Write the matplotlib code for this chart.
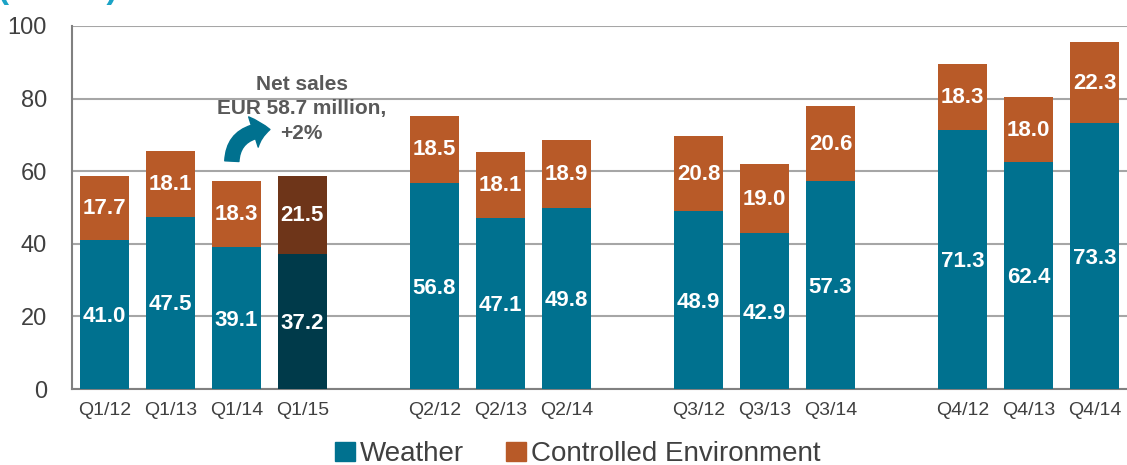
import matplotlib
matplotlib.use("Agg")
import matplotlib.pyplot as plt
from matplotlib.patches import FancyArrowPatch, Patch

plt.rcParams['font.family'] = ['Liberation Sans', 'DejaVu Sans']

categories = ["Q1/12", "Q1/13", "Q1/14", "Q1/15",
              "Q2/12", "Q2/13", "Q2/14",
              "Q3/12", "Q3/13", "Q3/14",
              "Q4/12", "Q4/13", "Q4/14"]
positions = [0, 1, 2, 3, 5, 6, 7, 9, 10, 11, 13, 14, 15]
weather = [41.0, 47.5, 39.1, 37.2, 56.8, 47.1, 49.8, 48.9, 42.9, 57.3, 71.3, 62.4, 73.3]
controlled = [17.7, 18.1, 18.3, 21.5, 18.5, 18.1, 18.9, 20.8, 19.0, 20.6, 18.3, 18.0, 22.3]
highlight = "Q1/15"
yticks = [0, 20, 40, 60, 80, 100]

TEAL = "#00718F"
ORANGE = "#B85A28"
TEAL_D = "#003A4A"
ORANGE_D = "#6E3519"
GRAY = "#404040"

fig = plt.figure(figsize=(11.27, 4.65), dpi=100)
ax = fig.add_axes([72 / 1127, 76 / 465, 1 - 72 / 1127, 363 / 465])

wcol = [TEAL_D if c == highlight else TEAL for c in categories]
ccol = [ORANGE_D if c == highlight else ORANGE for c in categories]
width = 0.74
ax.bar(positions, weather, width=width, color=wcol, zorder=3)
ax.bar(positions, controlled, width=width, bottom=weather, color=ccol, zorder=3)

for x, w, c in zip(positions, weather, controlled):
    ax.text(x, w / 2 - 0.6, f"{w:.1f}", ha="center", va="center", color="white",
            fontsize=16, fontweight="bold", zorder=4)
    ax.text(x, w + c / 2 - 0.2, f"{c:.1f}", ha="center", va="center", color="white",
            fontsize=16, fontweight="bold", zorder=4)

ax.set_xlim(-0.49, 15.49)
ax.set_ylim(0, 100)
ax.set_yticks(yticks)
ax.set_xticks(positions)
ax.set_xticklabels(categories)
ax.tick_params(axis="x", length=0, labelsize=14, labelcolor=GRAY, pad=9)
ax.tick_params(axis="y", length=0, labelsize=17, labelcolor=GRAY, pad=18)
ax.yaxis.grid(True, color="#A6A6A6", lw=1.5, zorder=0)
ax.set_axisbelow(True)
for s in ["top", "right"]:
    ax.spines[s].set_visible(False)
for s in ["left", "bottom"]:
    ax.spines[s].set_color("#808080")
    ax.spines[s].set_linewidth(1.5)

# annotation
ax.text(2.99, 77.2, "Net sales\nEUR 58.7 million,\n+2%", ha="center", va="center",
        fontsize=15, fontweight="bold", color="#595959", linespacing=1.38, zorder=5)
arr = FancyArrowPatch((1.93, 62.0), (2.55, 71.5),
                      connectionstyle="angle3,angleA=90,angleB=0",
                      arrowstyle="simple,head_width=1.9,head_length=1.0,tail_width=0.85",
                      mutation_scale=12, color=TEAL, zorder=5)
ax.add_patch(arr)

# clipped title remnant at top
fig.text(-0.002, 0.99, "(MEUR)", color="#1BA3C6", fontsize=24, fontweight="bold",
         ha="left", va="bottom")

handles = [Patch(color=TEAL, label="Weather"), Patch(color=ORANGE, label="Controlled Environment")]
fig.legend(handles=handles, loc="center", bbox_to_anchor=(578 / 1127, 1 - 454 / 465),
           ncol=2, frameon=False, fontsize=20, handlelength=0.7, handleheight=0.7,
           handletextpad=0.2, columnspacing=1.5, labelcolor=GRAY, borderaxespad=0)

fig.savefig("out.png", dpi=100)
